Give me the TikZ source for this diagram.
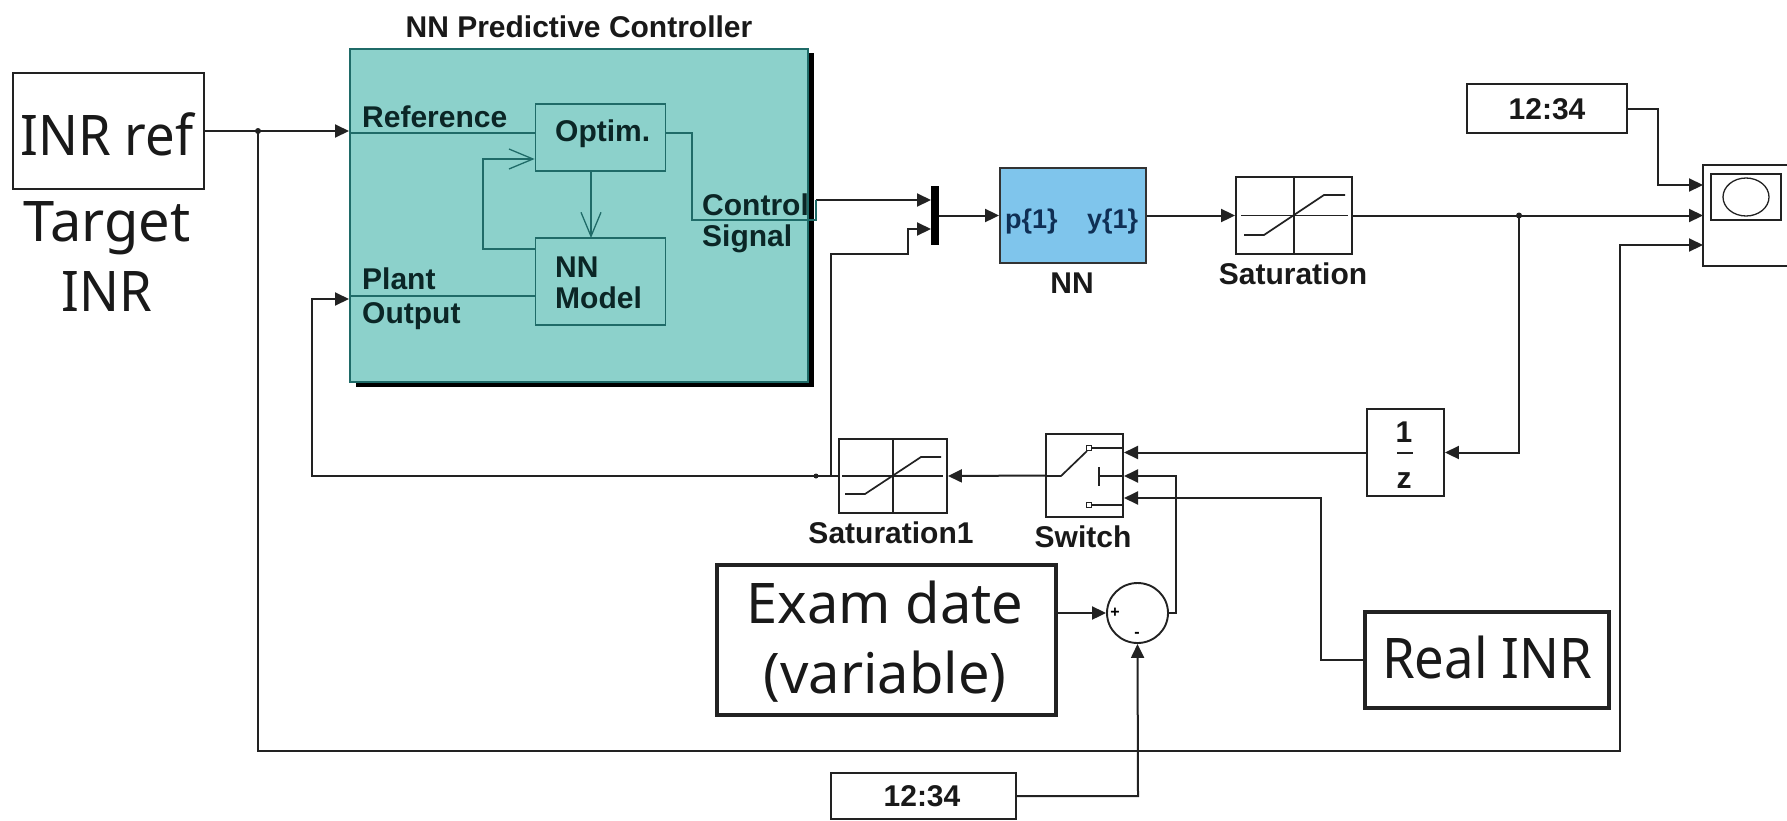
\documentclass[tikz,border=0pt]{standalone}
\usepackage{fontspec}
\usetikzlibrary{arrows.meta,shapes.geometric}
\setmainfont{Liberation Sans}
\newfontfamily\bigf{Noto Sans}[FakeStretch=0.94]
\newfontfamily\bigw{Noto Sans}[FakeStretch=1.0]
\definecolor{ink}{HTML}{222222}
\definecolor{mainfill}{HTML}{8CD1CB}
\definecolor{tealdark}{HTML}{1F6B68}
\definecolor{sky}{HTML}{7FC5EC}
\definecolor{labink}{HTML}{0B2626}
\definecolor{navy}{HTML}{0F2F55}
\tikzset{
  x=1pt,y=-1pt,
  >={Triangle[length=14pt,width=13pt]},
  wire/.style={draw=ink,line width=2pt},
  inwire/.style={draw=tealdark,line width=1.6pt},
  openarr/.style={-{Straight Barb[length=24pt,width=20pt,line width=1.3pt]}},
  box/.style={draw=ink,line width=1.9pt,fill=white,inner sep=0pt,anchor=center},
  thickbox/.style={box,line width=3.4pt},
  inbox/.style={draw=tealdark,line width=1.7pt,inner sep=0pt},
  lbl/.style={inner sep=0pt,anchor=base,font=\bfseries\fontsize{30}{30}\selectfont,text=black!90},
  inlbl/.style={lbl,anchor=base west,text=labink},
  biglbl/.style={inner sep=0pt,anchor=base,font=\bigf\fontsize{56}{56}\selectfont,text=black!90},
  bigwide/.style={biglbl,font=\bigw\fontsize{56}{56}\selectfont},
  num/.style={lbl,font=\bfseries\fontsize{30}{30}\selectfont},
  jdot/.style={circle,fill=ink,inner sep=0pt,minimum size=6pt},
  glyph/.style={draw=ink,line width=1.7pt},
}
\begin{document}
\begin{tikzpicture}
\useasboundingbox (0,0) rectangle (1787,820);
% --- blocks
\fill[black] (356,53) rectangle (814,387);
\node[draw=tealdark,fill=mainfill,line width=1.8pt,inner sep=0pt,minimum width=458pt,minimum height=333pt] (main) at (579,215.5) {};
\node[inbox,minimum width=130pt,minimum height=67pt] (optim) at (600.5,137.5) {};
\node[inbox,minimum width=130pt,minimum height=87pt] (model) at (600.5,281.5) {};
\node[box,minimum width=191pt,minimum height=116pt] (inr) at (108.5,131) {};
\node[fill=black,inner sep=0pt,minimum width=8pt,minimum height=59pt] (mux) at (935,215.5) {};
\node[box,fill=sky,draw=black!80,minimum width=146pt,minimum height=95pt] (nn) at (1073,215.5) {};
\node[box,minimum width=116pt,minimum height=77pt] (sat) at (1294,215.5) {};
\node[box,minimum width=160pt,minimum height=49pt] (clocka) at (1547,108.5) {};
\node[box,minimum width=86pt,minimum height=101pt] (scope) at (1746,215.5) {};
\node[box,minimum width=70pt,minimum height=46pt] (screen) at (1746,197) {};
\node[box,minimum width=77pt,minimum height=87pt] (delay) at (1405.5,452.5) {};
\node[box,minimum width=77pt,minimum height=83pt] (switch) at (1084.5,475.5) {};
\node[box,minimum width=108pt,minimum height=74pt] (satb) at (893,476) {};
\node[box,ellipse,minimum width=61pt,minimum height=60pt] (sum) at (1137.5,613) {};
\node[thickbox,minimum width=339pt,minimum height=150pt] (exam) at (886.5,640) {};
\node[thickbox,minimum width=244pt,minimum height=96pt] (real) at (1487,660) {};
\node[box,minimum width=185pt,minimum height=46pt] (clockb) at (923.5,796) {};
% --- junctions and bends
\coordinate (inA) at (349,131);
\coordinate (inB) at (349,299);
\coordinate (jA) at (258,131);
\coordinate (jAd) at (258,751);
\coordinate (rr) at (1620,751);
\coordinate (sc1) at (1703,185);
\coordinate (sc2) at (1703,215.5);
\coordinate (sc3) at (1703,245);
\coordinate (jB) at (1519,215.5);
\coordinate (fbl) at (312,476);
\coordinate (fbj) at (831,476);
\coordinate (sw1) at (1124,452.5);
\coordinate (sw2) at (1124,476);
\coordinate (sw3) at (1124,498);
\coordinate (mx1) at (931,200);
\coordinate (mx2) at (931,229);
% --- outer connectors
\draw[wire,->] (inr.east) -- (inA);
\draw[wire,->] (jA) -- (jAd) -- (rr) -- (rr |- sc3) -- (sc3);
\draw[wire,->] (satb.west) -- (fbl) -- (fbl |- inB) -- (inB);
\draw[wire,->] (fbj) -- (fbj |- 0,254) -- (908,254) -- (908,229) -- (mx2);
\draw[wire,->] (816,200) -- (mx1);
\draw[wire,->] (mux.east) -- (nn.west);
\draw[wire,->] (nn.east) -- (sat.west);
\draw[wire,->] (sat.east) -- (sc2);
\draw[wire,->] (clocka.east) -- (1658,108.5) -- (1658,185) -- (sc1);
\draw[wire,->] (jB) -- (jB |- delay.east) -- (delay.east);
\draw[wire,->] (delay.west) -- (sw1);
\draw[wire,->] (switch.west) -- (satb.east);
\draw[wire,->] (sum.east) -- (1176,613) -- (1176,476) -- (sw2);
\draw[wire,->] (real.west) -- (1321,660) -- (1321,498) -- (sw3);
\draw[wire,->] (exam.east |- sum.west) -- (sum.west);
\draw[wire,->] (clockb.east) -- (1138,796) -- (sum.south);
\node[jdot] (dotA) at (jA) {};
\node[jdot] (dotB) at (jB) {};
\node[jdot,minimum size=5pt] (dotC) at (816,476) {};
% --- inside the controller
\draw[inwire] (350,133) -- (optim.west |- 0,133);
\draw[inwire] (350,296) -- (model.west |- 0,296);
\draw[inwire] (optim.east |- 0,133) -- (692,133) -- (692,220) -- (816,220) -- (816,200);
\draw[inwire,openarr] (591,171) -- (591,238);
\draw[inwire,openarr] (model.west |- 0,249) -- (483,249) -- (483,159) -- (optim.west |- 0,159);
% --- block glyphs
\draw[glyph] (1241,215.5) -- (1348,215.5) (1294,177) -- (1294,254);
\draw[glyph] (1244,235) -- (1264,235) -- (1324,195) -- (1345,195);
\draw[glyph] (842,476) -- (943,476) (893,439) -- (893,513);
\draw[glyph] (845,494) -- (865,494) -- (921,457) -- (941,457);
\draw[draw=ink,line width=1.3pt] (1746,197) ellipse (23 and 19);
\draw[glyph] (1046,476) -- (1061,476) -- (1087,451);
\draw[glyph] (1092,448) -- (1124,448) (1092,505) -- (1124,505);
\draw[glyph,fill=white] (1086.5,445.5) rectangle (1091.5,450.5);
\draw[glyph,fill=white] (1086.5,502.5) rectangle (1091.5,507.5);
\draw[glyph] (1099,467) -- (1099,486) (1099,476) -- (1124,476);
\draw[glyph,line width=2pt] (1397,452.5) -- (1413,452.5);
% --- text
\node[lbl] (tmain) at (579,37) {NN Predictive Controller};
\node[inlbl] (tref) at (362,127) {Reference};
\node[inlbl] (tplant) at (362,289) {Plant};
\node[inlbl] (toutp) at (362,323) {Output};
\node[inlbl] (tcont) at (702,215) {Control};
\node[inlbl] (tsig) at (702,246) {Signal};
\node[inlbl] (topt) at (555,141) {Optim.};
\node[inlbl] (tnn) at (555,277) {NN};
\node[inlbl] (tmod) at (555,308) {Model};
\node[biglbl] (tinr) at (107,155) {INR ref};
\node[bigwide] (ttarget) at (107,241) {Target};
\node[biglbl] (tinr2) at (107,311) {INR};
\node[inner sep=0pt,anchor=base west,font=\bfseries\fontsize{27}{27}\selectfont,text=navy] (tp) at (1005,228) {p\{1\}};
\node[inner sep=0pt,anchor=base west,font=\bfseries\fontsize{27}{27}\selectfont,text=navy] (ty) at (1087,228) {y\{1\}};
\node[lbl] (tnnl) at (1072,293) {NN};
\node[lbl] (tsat) at (1293,284) {Saturation};
\node[lbl] (tsatb) at (891,543) {Saturation1};
\node[lbl] (tsw) at (1083,547) {Switch};
\node[num] (tc1) at (1547,119) {12:34};
\node[num] (tc2) at (922,806) {12:34};
\node[num] (td1) at (1404,442) {1};
\node[num] (td2) at (1404,488) {z};
\node[inner sep=0pt,font=\bfseries\fontsize{16}{16}\selectfont] (tplus) at (1115,613) {+};
\node[inner sep=0pt,font=\bfseries\fontsize{16}{16}\selectfont] (tminus) at (1137,635) {-};
\node[bigwide] (tex1) at (885,623) {Exam date};
\node[bigwide] (tex2) at (885,693) {(variable)};
\node[biglbl] (treal) at (1487,678) {Real INR};
\end{tikzpicture}
\end{document}
